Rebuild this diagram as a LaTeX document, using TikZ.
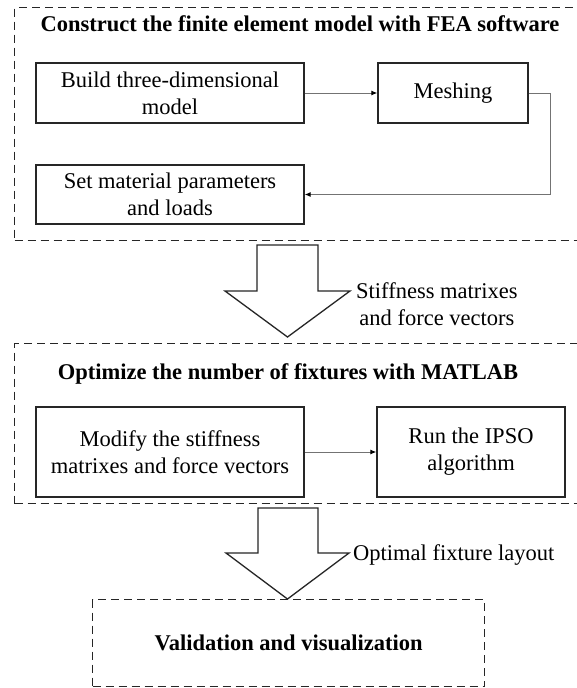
\documentclass[tikz,border=0pt]{standalone}
\usepackage{fontspec}
\setmainfont{Liberation Serif}
\usetikzlibrary{arrows.meta}
\begin{document}
\begin{tikzpicture}[x=1pt,y=-1pt,
  txt/.style={font=\fontsize{22.5}{27}\selectfont, align=center, inner sep=0pt},
  ttl/.style={font=\fontsize{22.5}{27}\selectfont\bfseries, inner sep=0pt},
  stepbox/.style={draw=black!85, line width=1.4pt, txt},
  group/.style={draw=black!85, line width=1.3pt, dash pattern=on 8pt off 5pt, inner sep=0pt},
  link/.style={draw=black!55, line width=1pt, -{Latex[length=6pt,width=5pt,black]}},
  bigarrow/.style={draw=black!85, line width=1.3pt, fill=white, line join=miter}]
\clip (0,0) rectangle (577,688);
\fill[white] (0,0) rectangle (577,688);

% group frames
\node[group, anchor=north west, minimum width=572pt, minimum height=233pt] (g1) at (14,7) {};
\node[group, anchor=north west, minimum width=572pt, minimum height=160pt] (g2) at (14,343) {};
\node[group, anchor=north west, minimum width=392pt, minimum height=87pt, ttl] (g3) at (92,599) {Validation and visualization};

% titles
\node[ttl, anchor=base] (t1) at (300,31) {Construct the finite element model with FEA software};
\node[ttl, anchor=base] (t2) at (288,379) {Optimize the number of fixtures with MATLAB};

% step boxes
\node[stepbox, minimum width=268pt, minimum height=60pt] (b1) at (170,93) {Build three-dimensional\\model};
\node[stepbox, minimum width=150pt, minimum height=60pt] (b2) at (453,93) {Meshing};
\node[stepbox, minimum width=268pt, minimum height=59pt] (b3) at (170,194.5) {Set material parameters\\and loads};
\node[stepbox, minimum width=268pt, minimum height=90pt] (b4) at (170,452) {Modify the stiffness\\matrixes and force vectors};
\node[stepbox, minimum width=188pt, minimum height=90pt] (b5) at (471,452) {Run the IPSO\\algorithm};

% connectors
\draw[link] (b1) -- (b2);
\draw[link] (b2.east) -- ++(22,0) |- (b3.east);
\draw[link] (b4) -- (b5);

% big arrows
\draw[bigarrow] (257,245) -- (318,245) -- (318,291) -- (350,291) -- (287.5,337) -- (225,291) -- (257,291) -- cycle;
\draw[bigarrow] (258,508) -- (318,508) -- (318,553) -- (349,553) -- (287.5,599) -- (226,553) -- (258,553) -- cycle;

% arrow labels
\node[txt, anchor=west] (l1) at (356,304) {Stiffness matrixes\\and force vectors};
\node[txt, anchor=base west] (l2) at (353,560.5) {Optimal fixture layout};
\end{tikzpicture}
\end{document}
